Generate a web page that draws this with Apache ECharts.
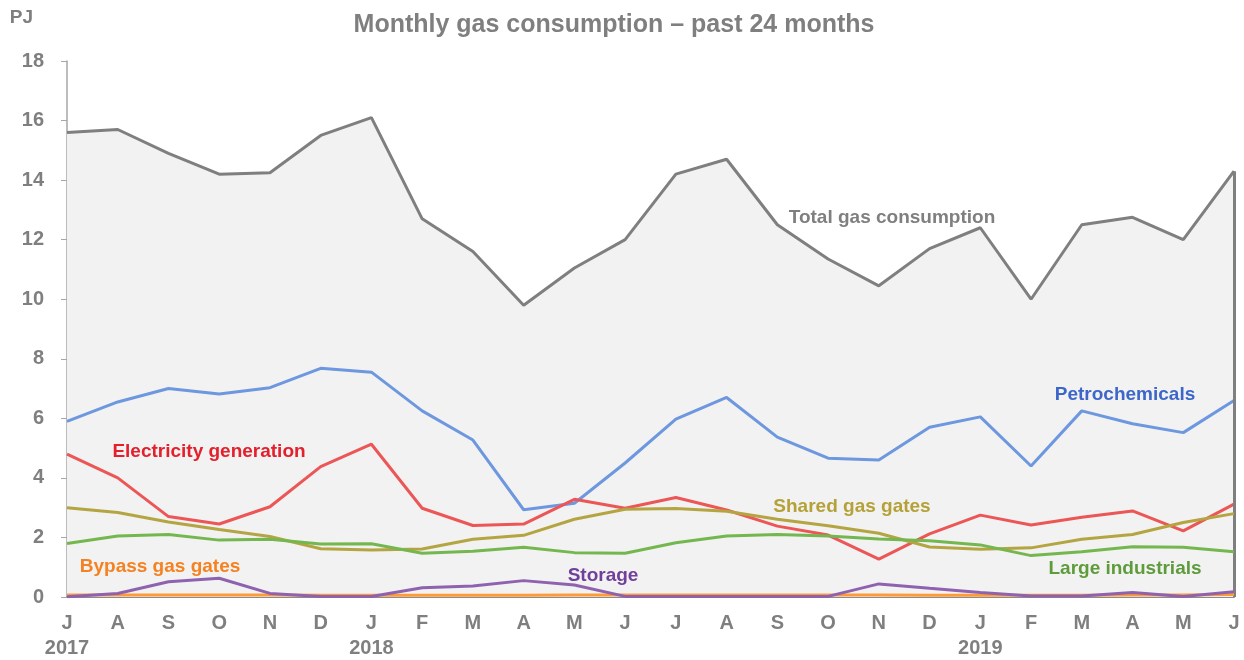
<!DOCTYPE html>
<html>
<head>
<meta charset="utf-8">
<script src="https://cdn.jsdelivr.net/npm/echarts@6/dist/echarts.min.js"></script>
<style>html,body{margin:0;padding:0;background:#fff}#c{width:1244px;height:660px}</style>
</head>
<body>
<div id="c"></div>
<script>
const months = ['J','A','S','O','N','D','J','F','M','A','M','J','J','A','S','O','N','D','J','F','M','A','M','J'];
const years  = ['2017','','','','','','2018','','','','','','','','','','','','2019','','','','',''];
const yTicks = [0, 18, 2];

const totalGas      = [15.6,15.7,14.9,14.2,14.25,15.5,16.1,12.7,11.6,9.8,11.05,12.0,14.2,14.7,12.5,11.35,10.45,11.7,12.4,10.0,12.5,12.75,12.0,14.3];
const petrochem     = [5.9,6.55,7.0,6.82,7.03,7.68,7.55,6.25,5.27,2.93,3.15,4.5,5.97,6.7,5.37,4.66,4.6,5.7,6.05,4.4,6.25,5.82,5.52,6.6];
const electricity   = [4.8,4.0,2.7,2.45,3.03,4.38,5.13,2.98,2.4,2.45,3.28,2.98,3.34,2.92,2.38,2.08,1.27,2.12,2.75,2.42,2.68,2.89,2.22,3.12];
const sharedGates   = [3.0,2.84,2.52,2.27,2.03,1.62,1.58,1.61,1.94,2.07,2.61,2.95,2.97,2.88,2.61,2.39,2.14,1.68,1.6,1.65,1.94,2.1,2.5,2.8];
const largeInd      = [1.8,2.05,2.1,1.91,1.94,1.78,1.79,1.47,1.54,1.67,1.49,1.47,1.82,2.05,2.1,2.05,1.95,1.89,1.75,1.39,1.52,1.69,1.67,1.52];
const storage       = [0.01,0.12,0.51,0.63,0.12,0.02,0.02,0.31,0.37,0.55,0.4,0.02,0.02,0.02,0.02,0.02,0.44,0.29,0.15,0.03,0.03,0.15,0.02,0.18];
const bypassGates   = [0.07,0.07,0.07,0.07,0.07,0.06,0.06,0.06,0.06,0.06,0.07,0.07,0.07,0.07,0.07,0.07,0.07,0.06,0.06,0.06,0.06,0.07,0.07,0.08];

const FONT = '"Liberation Sans", Arial, sans-serif';
const GRAY = '#7f7f7f';

function line(name, data, color, z) {
  return {
    name, type: 'line', data, symbol: 'none', z,
    lineStyle: { color, width: 3 }, itemStyle: { color },
    silent: true, animation: false
  };
}

const chart = echarts.init(document.getElementById('c'), null, { renderer: 'canvas' });
const labels = [
  { t: 'Total gas consumption', x: 892, y: 218, c: '#7f7f7f' },
  { t: 'Petrochemicals', x: 1125, y: 395, c: '#3c67c9' },
  { t: 'Electricity generation', x: 209, y: 452, c: '#e3202b' },
  { t: 'Shared gas gates', x: 852, y: 507, c: '#b4a238' },
  { t: 'Large industrials', x: 1125, y: 569, c: '#5e9b3b' },
  { t: 'Storage', x: 603, y: 576, c: '#70409a' },
  { t: 'Bypass gas gates', x: 160, y: 567, c: '#f58220' }
];

const totalSeries = line('Total gas consumption', totalGas, GRAY, 1);
totalSeries.areaStyle = { color: '#f2f2f2', opacity: 1 };
totalSeries.markLine = {
  silent: true, symbol: 'none', animation: false,
  lineStyle: { color: GRAY, width: 3, type: 'solid' },
  label: { show: false },
  data: [[{ coord: [months.length - 1, 0] }, { coord: [months.length - 1, totalGas[totalGas.length - 1]] }]]
};

chart.setOption({
  animation: false,
  backgroundColor: '#ffffff',
  title: {
    text: 'Monthly gas consumption \u2013 past 24 months',
    left: 609, top: 8, textAlign: 'center',
    textStyle: { fontFamily: FONT, fontSize: 25, fontWeight: 'bold', color: GRAY }
  },
  grid: { left: 67, right: 10, top: 61, bottom: 63, containLabel: false },
  xAxis: {
    type: 'category', data: months, boundaryGap: false,
    axisLine: { show: true, lineStyle: { color: '#8c8c8c', width: 2 } },
    axisTick: { show: false },
    axisLabel: {
      interval: 0, margin: 15,
      formatter: (v, i) => years[i] ? '{m|' + v + '}\n{y|' + years[i] + '}' : '{m|' + v + '}',
      rich: {
        m: { fontFamily: FONT, fontSize: 20, fontWeight: 'bold', color: GRAY, lineHeight: 22 },
        y: { fontFamily: FONT, fontSize: 20, fontWeight: 'bold', color: GRAY, lineHeight: 28 }
      }
    },
    splitLine: { show: false }
  },
  yAxis: {
    type: 'value', min: yTicks[0], max: yTicks[1], interval: yTicks[2],
    name: 'PJ', nameLocation: 'end', nameGap: 34,
    nameTextStyle: { fontFamily: FONT, fontSize: 19, fontWeight: 'bold', color: GRAY, align: 'right', padding: [0, 34, 0, 0] },
    axisLine: { show: true, lineStyle: { color: '#a6a6a6', width: 1.5 } },
    axisTick: { show: true, length: 6, lineStyle: { color: '#a6a6a6' } },
    axisLabel: { fontFamily: FONT, fontSize: 20, fontWeight: 'bold', color: GRAY, margin: 23 },
    splitLine: { show: false }
  },
  series: [
    totalSeries,
    line('Petrochemicals', petrochem, '#6d97df', 3),
    line('Electricity generation', electricity, '#ec5656', 4),
    line('Shared gas gates', sharedGates, '#b4a542', 5),
    line('Large industrials', largeInd, '#74b74f', 6),
    line('Bypass gas gates', bypassGates, '#ff9a38', 7),
    line('Storage', storage, '#8f62b0', 8)
  ],
  graphic: labels.map(l => ({
    type: 'text', x: l.x, y: l.y, z: 100, silent: true,
    style: { text: l.t, fill: l.c, font: 'bold 19px ' + FONT, textAlign: 'center', textVerticalAlign: 'middle' }
  }))
});
</script>
</body>
</html>
